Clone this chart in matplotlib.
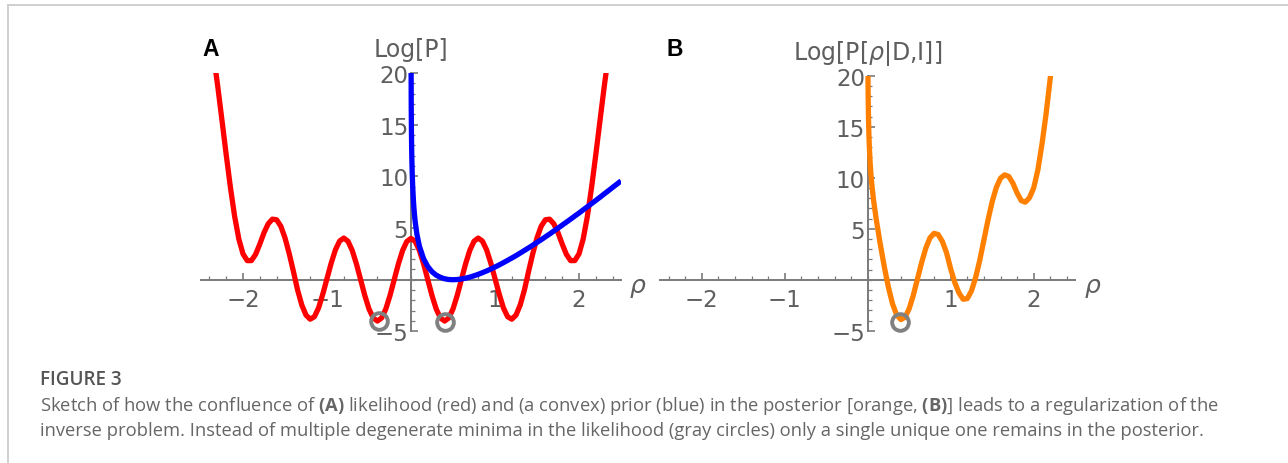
import numpy as np
import matplotlib
matplotlib.use('Agg')
import matplotlib.pyplot as plt
from matplotlib.ticker import MultipleLocator
from matplotlib.lines import Line2D

# likelihood (red)
rho_red = [-2.35, -2.30, -2.25, -2.20, -2.15, -2.10, -2.05, -2.00, -1.95, -1.90,
           -1.85, -1.80, -1.75, -1.70, -1.65, -1.60, -1.55, -1.50, -1.45, -1.40,
           -1.35, -1.30, -1.25, -1.20, -1.15, -1.10, -1.05, -1.00, -0.95, -0.90,
           -0.85, -0.80, -0.75, -0.70, -0.65, -0.60, -0.55, -0.50, -0.45, -0.40,
           -0.35, -0.30, -0.25, -0.20, -0.15, -0.10, -0.05, 0.00, 0.05, 0.10,
           0.15, 0.20, 0.25, 0.30, 0.35, 0.40, 0.45, 0.50, 0.55, 0.60,
           0.65, 0.70, 0.75, 0.80, 0.85, 0.90, 0.95, 1.00, 1.05, 1.10,
           1.15, 1.20, 1.25, 1.30, 1.35, 1.40, 1.45, 1.50, 1.55, 1.60,
           1.65, 1.70, 1.75, 1.80, 1.85, 1.90, 1.95, 2.00, 2.05, 2.10,
           2.15, 2.20, 2.25, 2.30, 2.35]
logL = [21.72, 18.67, 15.40, 12.10, 8.95, 6.15, 3.95, 2.50, 1.85, 1.85,
        2.45, 3.45, 4.55, 5.41, 5.86, 5.80, 5.18, 4.05, 2.53, 0.81,
        -1.00, -2.45, -3.42, -3.82, -3.58, -2.72, -1.39, 0.11, 1.61, 2.89,
        3.74, 4.03, 3.72, 2.84, 1.54, 0.01, -1.53, -2.83, -3.70, -4.00,
        -3.70, -2.83, -1.53, 0.00, 1.53, 2.83, 3.70, 4.00, 3.70, 2.83,
        1.53, 0.00, -1.53, -2.83, -3.70, -4.00, -3.70, -2.83, -1.53, 0.01,
        1.54, 2.84, 3.72, 4.03, 3.74, 2.89, 1.61, 0.11, -1.39, -2.72,
        -3.58, -3.82, -3.42, -2.45, -1.00, 0.81, 2.53, 4.05, 5.18, 5.80,
        5.86, 5.41, 4.55, 3.45, 2.45, 1.85, 1.85, 2.50, 3.95, 6.15,
        8.95, 12.10, 15.40, 18.67, 21.72]

# convex prior (blue)
rho_blue = [0.001, 0.003, 0.005, 0.0075, 0.01, 0.015, 0.02, 0.03, 0.04, 0.05,
            0.07, 0.10, 0.15, 0.20, 0.25, 0.30, 0.35, 0.40, 0.45, 0.50,
            0.55, 0.60, 0.65, 0.70, 0.75, 0.80, 0.85, 0.90, 0.95, 1.00,
            1.05, 1.10, 1.15, 1.20, 1.25, 1.30, 1.35, 1.40, 1.45, 1.50,
            1.55, 1.60, 1.65, 1.70, 1.75, 1.80, 1.85, 1.90, 1.95, 2.00,
            2.05, 2.10, 2.15, 2.20, 2.25, 2.30, 2.35, 2.40, 2.45, 2.50]
logPrior = [20.87, 16.49, 14.46, 12.86, 11.73, 10.15, 9.04, 7.49, 6.42, 5.61,
            4.42, 3.24, 2.02, 1.27, 0.77, 0.44, 0.23, 0.09, 0.02, 0.00,
            0.02, 0.07, 0.15, 0.25, 0.38, 0.52, 0.68, 0.85, 1.03, 1.23,
            1.43, 1.65, 1.87, 2.10, 2.33, 2.58, 2.83, 3.08, 3.34, 3.61,
            3.87, 4.15, 4.42, 4.71, 4.99, 5.28, 5.57, 5.86, 6.16, 6.45,
            6.76, 7.06, 7.37, 7.67, 7.98, 8.30, 8.61, 8.93, 9.24, 9.56]

# posterior (orange), panel B
rho_post = [0.003, 0.005, 0.0075, 0.01, 0.015, 0.02, 0.03, 0.04, 0.05, 0.07,
            0.10, 0.15, 0.20, 0.25, 0.30, 0.35, 0.40, 0.45, 0.50, 0.55,
            0.60, 0.65, 0.70, 0.75, 0.80, 0.85, 0.90, 0.95, 1.00, 1.05,
            1.10, 1.15, 1.20, 1.25, 1.30, 1.35, 1.40, 1.45, 1.50, 1.55,
            1.60, 1.65, 1.70, 1.75, 1.80, 1.85, 1.90, 1.95, 2.00, 2.05,
            2.10, 2.15, 2.20, 2.25]
logPost = [20.49, 18.46, 16.85, 15.72, 14.12, 12.99, 11.38, 10.22, 9.31, 7.83,
           6.07, 3.55, 1.27, -0.76, -2.39, -3.47, -3.91, -3.68, -2.83, -1.51,
           0.08, 1.69, 3.09, 4.10, 4.55, 4.42, 3.74, 2.64, 1.05, -0.30,
           -1.30, -1.92, -1.85, -1.10, 0.20, 1.90, 3.89, 5.87, 7.66, 9.05,
           9.95, 10.28, 10.12, 9.45, 8.50, 7.75, 7.60, 8.05, 9.00, 10.75,
           13.30, 16.30, 19.80, 23.40]

# minima marked with gray circles
min_a_rho = [-0.38, 0.40]
min_a_val = [-3.97, -4.07]
min_b_rho = [0.39]
min_b_val = [-4.10]

axis_col = '#7a7a7a'
label_col = '#5e5e5e'

plt.rcParams['mathtext.fontset'] = 'custom'
plt.rcParams['mathtext.it'] = 'DejaVu Sans:italic'
plt.rcParams['mathtext.rm'] = 'DejaVu Sans'
plt.rcParams['mathtext.bf'] = 'Open Sans:bold'


def style_axes(ax, ylab):
    ax.set_xlim(-2.5, 2.5)
    ax.set_ylim(-5, 20)
    ax.patch.set_alpha(0)
    ax.spines['top'].set_visible(False)
    ax.spines['right'].set_visible(False)
    for s in ['left', 'bottom']:
        ax.spines[s].set_position(('data', 0))
        ax.spines[s].set_color(axis_col)
        ax.spines[s].set_linewidth(1.4)
    ax.set_xticks([-2, -1, 1, 2])
    ax.set_yticks([-5, 5, 10, 15, 20])
    ax.xaxis.set_minor_locator(MultipleLocator(0.2))
    ax.yaxis.set_minor_locator(MultipleLocator(1))
    ax.tick_params(which='both', direction='in', colors=axis_col,
                   labelcolor=label_col, labelsize=16.5)
    ax.tick_params(which='major', length=5, width=1.2)
    ax.tick_params(which='minor', length=3, width=0.9)
    ax.tick_params(axis='x', pad=6)
    ax.tick_params(axis='y', pad=2)
    ax.annotate(ylab, xy=(0, 20), xytext=(0, 12), textcoords='offset points',
                ha='center', va='baseline', fontsize=17, color=label_col,
                annotation_clip=False)
    ax.annotate('$\\rho$', xy=(2.5, 0), xytext=(6, -5), textcoords='offset points',
                ha='left', va='center', fontsize=18, color=label_col,
                annotation_clip=False)


fig = plt.figure(figsize=(12.88, 4.64), dpi=100)

axA = fig.add_axes([201 / 1288, 1 - 332.4 / 464, 420 / 1288, 258.4 / 464])
style_axes(axA, 'Log[P]')
axA.plot(rho_red, logL, color='#ff0000', lw=3.8, zorder=3, solid_capstyle='butt')
axA.plot(rho_blue, logPrior, color='#0000ff', lw=3.8, zorder=3, solid_capstyle='butt')
axA.plot(min_a_rho, min_a_val, 'o', ms=12, mfc='none', mec='#808080', mew=2.8,
         zorder=4, clip_on=False)

axB = fig.add_axes([660.2 / 1288, 1 - 331.7 / 464, 415 / 1288, 255 / 464])
style_axes(axB, 'Log[P[$\\rho$|D,I]]')
axB.plot(rho_post, logPost, color='#ff8000', lw=3.8, zorder=3, solid_capstyle='butt')
axB.plot(min_b_rho, min_b_val, 'o', ms=12, mfc='none', mec='#808080', mew=2.8,
         zorder=4, clip_on=False)

fig.text(211 / 1288, 1 - 49 / 464, 'A', ha='center', va='center', fontsize=16.5,
         fontweight='bold', family='Liberation Sans', color='black')
fig.text(675 / 1288, 1 - 49 / 464, 'B', ha='center', va='center', fontsize=16.5,
         fontweight='bold', family='Liberation Sans', color='black')

# caption
fig.text(40 / 1288, 1 - 380 / 464, 'FIGURE 3', ha='left', va='center', fontsize=13.6,
         family='Open Sans', fontweight='semibold', color='#555555')
line1 = (r'Sketch of how the confluence of $\mathbf{(A)}$ likelihood (red) and (a convex) '
         r'prior (blue) in the posterior [orange, $\mathbf{(B)}$] leads to a regularization of the')
line2 = ('inverse problem. Instead of multiple degenerate minima in the likelihood '
         '(gray circles) only a single unique one remains in the posterior.')
fig.text(40 / 1288, 1 - 406 / 464, line1, ha='left', va='center', fontsize=13.25,
         family='Open Sans', color='#666666')
fig.text(40 / 1288, 1 - 431 / 464, line2, ha='left', va='center', fontsize=13.25,
         family='Open Sans', color='#666666')

# light frame on top and left edge
fig.add_artist(Line2D([7.5 / 1288, 7.5 / 1288], [0, 1 - 5.5 / 464],
                      transform=fig.transFigure, color='#cccccc', lw=1.3))
fig.add_artist(Line2D([7.5 / 1288, 1], [1 - 5.5 / 464, 1 - 5.5 / 464],
                      transform=fig.transFigure, color='#cccccc', lw=1.3))

fig.savefig('out.png', dpi=100)
